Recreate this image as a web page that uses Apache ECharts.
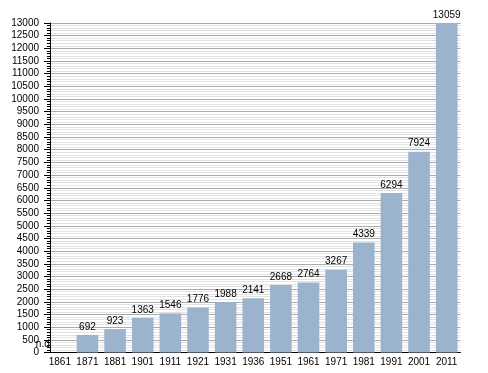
<!DOCTYPE html>
<html><head><meta charset="utf-8">
<script src="https://cdn.jsdelivr.net/npm/echarts@6/dist/echarts.min.js"></script>
<style>html,body{margin:0;padding:0;background:#fff}#c{width:488px;height:373px}</style>
</head><body><div id="c"></div>
<script>
const years = ['1861','1871','1881','1901','1911','1921','1931','1936','1951','1961','1971','1981','1991','2001','2011'];
const population = [null,692,923,1363,1546,1776,1988,2141,2668,2764,3267,4339,6294,7924,13059];
const missingLabel = 'n.d';

const FONT = 'Liberation Sans, Arial, sans-serif';
const chart = echarts.init(document.getElementById('c'));
const data = population.map((v) => v === null
  ? {value: 0, label: {show: true, formatter: missingLabel, offset: [-17, 0]}}
  : v);
chart.setOption({
  animation: false,
  grid: {left: 46, right: 27.5, top: 23, bottom: 20.5},
  xAxis: {
    type: 'category', data: years,
    axisLine: {lineStyle: {color: '#000', width: 1}},
    axisTick: {show: false},
    axisLabel: {color: '#000', fontSize: 10, fontFamily: FONT, margin: 5, interval: 0}
  },
  yAxis: {
    type: 'value', min: 0, max: 13000, interval: 500, offset: -4,
    axisLine: {show: true, lineStyle: {color: '#000'}},
    axisTick: {show: true, length: 6, lineStyle: {color: '#000'}},
    minorTick: {show: true, splitNumber: 5, length: 3, lineStyle: {color: '#000'}},
    splitLine: {show: true, lineStyle: {color: '#aaaaaa', width: 1}},
    minorSplitLine: {show: true, lineStyle: {color: '#e2e2e2', width: 1}},
    axisLabel: {color: '#000', fontSize: 10, fontFamily: FONT, margin: 11, formatter: (v) => String(v)}
  },
  series: [{
    type: 'bar', data: data, barWidth: '78%',
    itemStyle: {color: '#9bb3cc'},
    label: {show: true, position: 'top', color: '#000', fontSize: 10, fontFamily: FONT, distance: 3}
  }]
});
</script></body></html>
